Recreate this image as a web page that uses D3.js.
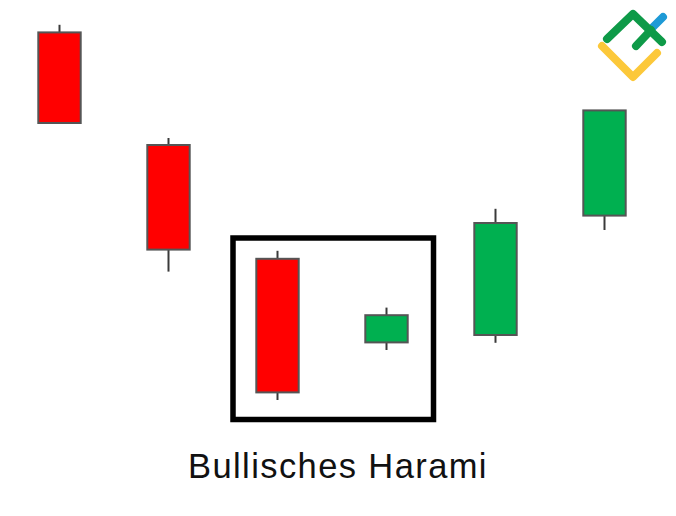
<!DOCTYPE html>
<html>
<head>
<meta charset="utf-8">
<script src="https://cdn.jsdelivr.net/npm/d3@7"></script>
<style>
  html, body { margin: 0; padding: 0; background: #ffffff; }
  svg { display: block; }
</style>
</head>
<body>
<svg id="chart" width="676" height="516"></svg>
<script>
const categories = ["C1", "C2", "C3", "C4", "C5", "C6"];
const openVals  = [99.4, 71.25, 42.8, 21.9, 23.75, 53.6];
const highVals  = [101.3, 73.0, 44.8, 30.6, 55.3, 79.9];
const lowVals   = [76.75, 39.6, 7.5, 20.0, 21.8, 50.0];
const closeVals = [76.75, 45.1, 9.4, 28.7, 51.75, 79.9];
const patternCategories = ["C3", "C4"];
const titleText = "Bullisches Harami";

const data = categories.map((c, i) => ({
  cat: c, open: openVals[i], high: highVals[i], low: lowVals[i], close: closeVals[i]
}));

const svg = d3.select("#chart");
const x = d3.scalePoint().domain(categories).range([59.5, 604.5]);
const y = d3.scaleLinear().domain([0, 100]).range([430, 30]);
const bodyW = 42.4;

// Pattern box
const bx0 = x(patternCategories[0]) - 44.5;
const bx1 = x(patternCategories[1]) + 47;
svg.append("rect")
  .attr("x", bx0).attr("y", 238)
  .attr("width", bx1 - bx0).attr("height", 181.5)
  .attr("fill", "none").attr("stroke", "#000").attr("stroke-width", 5.5);

const g = svg.append("g");
const candles = g.selectAll("g.candle").data(data).join("g").attr("class", "candle");

candles.append("line")
  .attr("x1", d => x(d.cat)).attr("x2", d => x(d.cat))
  .attr("y1", d => y(d.high)).attr("y2", d => y(d.low))
  .attr("stroke", "#3a3a3a").attr("stroke-width", 2);

candles.append("rect")
  .attr("x", d => x(d.cat) - bodyW / 2)
  .attr("y", d => y(Math.max(d.open, d.close)))
  .attr("width", bodyW)
  .attr("height", d => Math.abs(y(d.open) - y(d.close)))
  .attr("fill", d => d.close >= d.open ? "#00b050" : "#ff0000")
  .attr("stroke", "#555555").attr("stroke-width", 2);

// Title
svg.append("text")
  .attr("x", 338).attr("y", 477.5)
  .attr("text-anchor", "middle")
  .attr("font-family", "Liberation Sans, Arial, sans-serif")
  .attr("font-size", 34.5)
  .attr("letter-spacing", 1.4)
  .attr("fill", "#111")
  .text(titleText);

// Logo (decoration)
const logo = svg.append("g")
  .attr("fill", "none").attr("stroke-linecap", "round").attr("stroke-linejoin", "round")
  .attr("stroke-width", 8);
logo.append("path").attr("d", "M602,46 L633,77 L657,53").attr("stroke", "#fcc83a");
logo.append("path").attr("d", "M651,29 L663,17").attr("stroke", "#1e9ad6");
logo.append("path").attr("d", "M607,39 L633,14 L662,42").attr("stroke", "#0e9a48");
logo.append("path").attr("d", "M636,46 L651,30").attr("stroke", "#0e9a48");
</script>
</body>
</html>
